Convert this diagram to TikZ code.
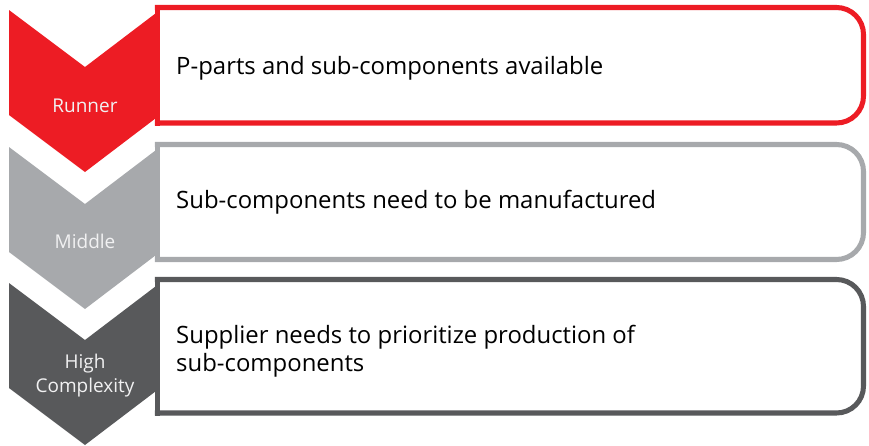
\documentclass[tikz,border=0pt]{standalone}
\usepackage{fontspec}
\setmainfont{Open Sans}
\usetikzlibrary{positioning}
\definecolor{runred}{HTML}{ED1C24}
\definecolor{midgray}{HTML}{A7A9AC}
\definecolor{highgray}{HTML}{58595B}
\definecolor{labelwhite}{HTML}{F1F1F2}
% chevron: colour, top edge
\newcommand{\chevron}[2]{%
	\fill[#1] (9,#2) -- (85,#2+57) -- (160,#2) -- (160,#2+105)
	-- (85,#2+162) -- (9,#2+105) -- cycle;}
% panel: colour, top, bottom
\newcommand{\panel}[3]{%
	\draw[panelline, draw=#1, rounded corners=0.81cm]
	(157.5,#2) -- (863.5,#2) -- (863.5,#3) -- (157.5,#3);
	\draw[panelline, draw=#1] (157.5,#2) -- (157.5,#3);}

\begin{document}
\begin{tikzpicture}[
	x=0.03cm, y=-0.03cm,
	panelline/.style={line width=4.3pt, line cap=rect, fill=none},
	level/.style={text=labelwhite, align=center, inner sep=0pt,
		font=\fontsize{16.2}{20.5}\selectfont},
	item/.style={anchor=west, align=left, inner sep=0pt, text=black,
		font=\fontsize{20.4}{23.5}\selectfont}
	]
	\useasboundingbox (0,0) rectangle (869,445);
	
	%--- chevrons --------------------------------------------------------------
	\chevron{runred}{10}
	\chevron{midgray}{147}
	\chevron{highgray}{283}
	
	%--- panels ----------------------------------------------------------------
	\fill[white] (160,8) rectangle (860,124);
	\fill[white] (160,144) rectangle (860,259);
	\fill[white] (160,280) rectangle (860,413);
	\panel{runred}{7.5}{123}
	\panel{midgray}{144.5}{259.5}
	\panel{highgray}{279.5}{413}
	
	%--- levels ----------------------------------------------------------------
	\node[level, anchor=base] (runner) at (85,112) {Runner};
	\node[level, anchor=base] (middle) at (85,248) {Middle};
	\node[level] (high) at (85,376) {High\\Complexity};
	
	%--- items -----------------------------------------------------------------
	\node[item] (runneritem) at (176,68) {P-parts and sub-components available};
	\node[item] (middleitem) at (176,202) {Sub-components need to be manufactured};
	\node[item] (highitem) at (176,351) {Supplier needs to prioritize production of\\sub-components};
\end{tikzpicture}
\end{document}
